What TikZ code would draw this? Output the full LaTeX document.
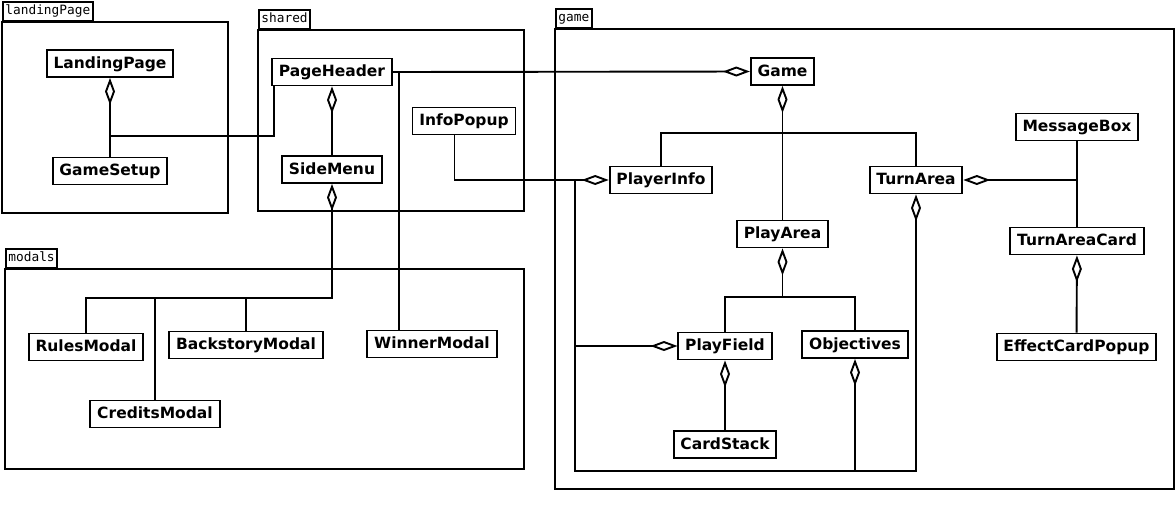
\documentclass[tikz,border=0pt]{standalone}
\usepackage{fontspec}
\setmainfont{DejaVu Sans}
\newfontfamily\pkgFont{DejaVu Sans Mono}
\usetikzlibrary{arrows.meta,calc}
\tikzset{
  classBox/.style={draw, line width=1.9pt, font=\fontsize{15.5}{18}\selectfont\bfseries,
    inner xsep=6.8pt, inner ysep=0pt, minimum height=27pt, text height=12.2pt, text depth=2.8pt},
  pkgTab/.style={draw, line width=1.9pt, anchor=south west, font=\fontsize{12.8}{14}\selectfont\pkgFont,
    inner xsep=2.5pt, inner ysep=0pt, minimum height=19pt, text height=9pt, text depth=2.5pt},
  pkgBody/.style={draw, line width=1.9pt},
  link/.style={line width=1.9pt},
  aggregation/.style={link, {Diamond[open,length=27pt,width=10pt]}-},
}
\newcommand{\pkgFrame}[3]{%
  \draw[pkgBody] #2 rectangle #3;
  \node[pkgTab] (#1Tab) at #2 {#1};}

\begin{document}
\begin{tikzpicture}[x=1pt,y=-1pt]
\useasboundingbox (0,0) rectangle (1176,504);

\pkgFrame{landingPage}{(2,22)}{(228,213)}
\node[classBox] (LandingPage) at (110,63.5) {LandingPage};
\node[classBox] (GameSetup) at (110,171) {GameSetup};

\pkgFrame{shared}{(258,30)}{(524,211)}
\node[classBox] (PageHeader) at (332,72) {PageHeader};
\node[classBox] (SideMenu) at (332,169.5) {SideMenu};
\node[classBox] (InfoPopup) at (464,121) {InfoPopup};

\pkgFrame{modals}{(5,269)}{(524,469)}
\node[classBox] (RulesModal) at (86,347) {RulesModal};
\node[classBox] (BackstoryModal) at (246,345) {BackstoryModal};
\node[classBox] (WinnerModal) at (432,344) {WinnerModal};
\node[classBox] (CreditsModal) at (155,414) {CreditsModal};

\pkgFrame{game}{(555,29)}{(1174,489)}
\node[classBox] (Game) at (782.5,71.5) {Game};
\node[classBox] (PlayerInfo) at (661,180) {PlayerInfo};
\node[classBox] (TurnArea) at (916,180) {TurnArea};
\node[classBox] (MessageBox) at (1077,127) {MessageBox};
\node[classBox] (PlayArea) at (782.5,234) {PlayArea};
\node[classBox] (TurnAreaCard) at (1077,241) {TurnAreaCard};
\node[classBox] (PlayField) at (725,346) {PlayField};
\node[classBox] (Objectives) at (855,344.5) {Objectives};
\node[classBox] (CardStack) at (725,444.5) {CardStack};
\node[classBox] (EffectCardPopup) at (1076.5,347) {EffectCardPopup};

\coordinate (jLanding) at (110,136);
\coordinate (jModals) at (332,298);
\coordinate (jWinner) at (399,71.5);
\coordinate (jGame) at (782.5,133);
\coordinate (jPlay) at (782.5,297);
\coordinate (cornerSW) at (575,471);

\draw[aggregation] (LandingPage) -- (GameSetup);
\draw[link] ([xshift=2.5pt]PageHeader.south west) |- (jLanding);
\draw[aggregation] (PageHeader) -- (SideMenu);
\draw[aggregation] (SideMenu.south) -- (jModals) -| (RulesModal.north);
\draw[link] (CreditsModal.north) -- (CreditsModal.north |- jModals);
\draw[link] (BackstoryModal.north) -- (BackstoryModal.north |- jModals);
\draw[aggregation] (Game.west) -- (PageHeader.east);
\draw[link] (jWinner) -- (jWinner |- WinnerModal.north);
\draw[aggregation] (PlayerInfo.west) -| ([xshift=-9.5pt]InfoPopup.south);
\draw[aggregation] (Game) -- (PlayArea);
\draw[link] (PlayerInfo.north) |- (jGame) -| (TurnArea.north);
\draw[link] (MessageBox) -- (TurnAreaCard);
\draw[aggregation] (TurnArea.east) -- (TurnArea.east -| MessageBox.south);
\draw[aggregation] (TurnAreaCard) -- (EffectCardPopup);
\draw[aggregation] (PlayArea.south) -- (jPlay);
\draw[link] (PlayField.north) |- (jPlay) -| (Objectives.north);
\draw[aggregation] (PlayField) -- (CardStack);
\draw[aggregation] (TurnArea.south) -- (TurnArea.south |- cornerSW) -- (cornerSW) -- (cornerSW |- PlayerInfo.west);
\draw[aggregation] (Objectives.south) -- (Objectives.south |- cornerSW);
\draw[aggregation] (PlayField.west) -- (PlayField.west -| cornerSW);
\end{tikzpicture}
\end{document}
